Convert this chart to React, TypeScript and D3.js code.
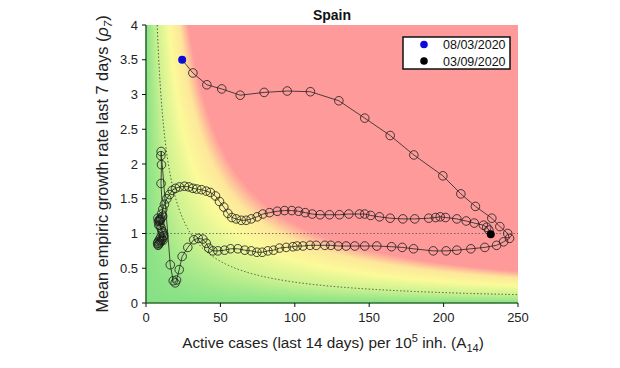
import React, { useEffect, useRef } from 'react';
import * as d3 from 'd3';

// trajectory, 08/03/2020 -> 03/09/2020
const A14 = [
  24.3, 31.5, 40.9, 50.9, 63.3, 79.4, 94.9, 110.5, 129.6, 147, 164.1, 180, 199.5, 211.6, 221.4, 232.4, 237.8, 243.1, 244.3,
  240.3, 235.6, 227.7, 218.3, 208.9, 201.7, 193, 179.8, 172.2, 165, 155.1, 147, 140.3, 134.5, 129.2, 124.2, 120.2, 114.4,
  110.3, 105.5, 101.5, 98.7, 94.2, 89.7, 85.7, 81.9, 78.1, 74.5, 70.7, 66.4, 61.7, 56.8, 52.8, 48.3, 44.9, 42.2, 40.5, 38.2,
  35.1, 32.1, 28.1, 24.3, 22.3, 20.5, 19.6, 18.3, 16.3, 10.2, 10.0, 10.4, 10.1,
  11.2, 10.0, 9.0, 8.0, 8.3, 8.6, 9.4, 10.2, 11.5, 11.8, 10.0, 8.9, 8.2, 7.8, 8.1, 8.4, 9.0, 9.6, 10.2, 10.8, 11.4, 11.8,
  11.2, 10.6, 9.4, 8.8, 9.8, 10.4, 11.3, 12.4, 14.0, 15.8, 17.6, 19.8, 22.5, 25.9, 28.8, 31.5, 34.1, 37.3,
  40.5, 43.3, 46.7, 49.4, 52.3, 55.0, 57.7, 60.6, 64.0, 67.3, 70.7, 74.7, 78.5, 83.0, 88.2, 93.1, 98.0, 102.5, 107.0, 111.7,
  117.0, 123.3, 130.0, 136.3, 143.5, 147.0, 151.0, 156.9, 164.1, 172.6, 180.6, 190.0, 194.6, 197.7, 201.3, 208.9, 215.2,
  220.6, 226.8, 229.0, 230.4, 231.7
];
const RHO7 = [
  3.5, 3.31, 3.14, 3.08, 2.99, 3.03, 3.05, 3.04, 2.91, 2.66, 2.41, 2.13, 1.83, 1.57, 1.39, 1.22, 1.1, 1.0, 0.93,
  0.88, 0.83, 0.8, 0.78, 0.76, 0.75, 0.75, 0.78, 0.8, 0.81, 0.82, 0.82, 0.82, 0.82, 0.82, 0.83, 0.83, 0.83,
  0.83, 0.82, 0.82, 0.81, 0.8, 0.79, 0.76, 0.75, 0.73, 0.73, 0.75, 0.76, 0.78, 0.78, 0.76, 0.75, 0.75, 0.79, 0.86, 0.92,
  0.93, 0.91, 0.8, 0.67, 0.48, 0.33, 0.29, 0.32, 0.55, 2.18, 2.12, 1.99, 1.72,
  1.25, 1.22, 1.2, 1.22, 1.17, 1.12, 1.18, 1.08, 1.0, 0.95, 0.95, 0.91, 0.88, 0.86, 0.83, 0.84, 0.86, 0.88, 0.9, 0.92, 0.9, 0.97,
  1.02, 1.04, 1.12, 1.18, 1.2, 1.28, 1.35, 1.42, 1.5, 1.56, 1.62, 1.65, 1.67, 1.68, 1.67, 1.65, 1.64, 1.63,
  1.61, 1.59, 1.54, 1.46, 1.38, 1.29, 1.23, 1.21, 1.19, 1.19, 1.21, 1.24, 1.28, 1.3, 1.32, 1.33, 1.33, 1.32, 1.3, 1.28,
  1.27, 1.27, 1.27, 1.28, 1.28, 1.28, 1.26, 1.24, 1.22, 1.21, 1.21, 1.22, 1.23, 1.24, 1.23, 1.21, 1.18,
  1.15, 1.12, 1.09, 1.05, 0.99
];

const xTicks = [0, 50, 100, 150, 200, 250];
const yTicks = [0, 0.5, 1, 1.5, 2, 2.5, 3, 3.5, 4];
const legendLabels = ['08/03/2020', '03/09/2020'];
const legendColors = ['#0b0bd6', '#000000'];
// background colour by A14 * rho7
const epgStops = [0, 30, 62, 90, 114];
const epgColors = ['#86e186', '#cdf290', '#fbfa99', '#fde69a', '#ff9a9a'];
const epgLine = 30;

const W = 620, H = 368;
const margin = { top: 25, right: 102, bottom: 65, left: 146 };
const font = '"Liberation Sans", Arial, sans-serif';

const draw = (node: SVGSVGElement) => {
  const svg = d3.select(node);
  svg.selectAll('*').remove();

  const width = W - margin.left - margin.right,
        height = H - margin.top - margin.bottom;

  const x = d3.scaleLinear().domain([0, 250]).range([0, width]);
  const y = d3.scaleLinear().domain([0, 4]).range([height, 0]);
  const color = d3.scaleLinear<string>().domain(epgStops).range(epgColors).clamp(true);

  svg.append('rect').attr('width', W).attr('height', H).attr('fill', '#fff');

  const g = svg.append('g').attr('transform', `translate(${margin.left},${margin.top})`);

  // risk background
  const canvas = document.createElement('canvas');
  canvas.width = width;
  canvas.height = height;
  const ctx = canvas.getContext('2d')!;
  const img = ctx.createImageData(width, height);
  for (let j = 0; j < height; j++) {
    const r = y.invert(j + 0.5);
    for (let i = 0; i < width; i++) {
      const a = x.invert(i + 0.5);
      const c = d3.rgb(color(a * r));
      const k = (j * width + i) * 4;
      img.data[k] = c.r; img.data[k + 1] = c.g; img.data[k + 2] = c.b; img.data[k + 3] = 255;
    }
  }
  ctx.putImageData(img, 0, 0);
  g.append('image')
    .attr('href', canvas.toDataURL())
    .attr('width', width)
    .attr('height', height)
    .attr('preserveAspectRatio', 'none');

  // reference lines
  const curve = d3.range(epgLine / 4, 250.01, 0.5).map(a => [a, epgLine / a] as [number, number]);
  g.append('path')
    .attr('d', d3.line().x(d => x(d[0])).y(d => y(d[1]))(curve))
    .attr('fill', 'none').attr('stroke', '#333').attr('stroke-width', 0.8).attr('stroke-dasharray', '1.5,2');
  g.append('line')
    .attr('x1', x(0)).attr('x2', x(250)).attr('y1', y(1)).attr('y2', y(1))
    .attr('stroke', '#555').attr('stroke-width', 0.8).attr('stroke-dasharray', '1.5,2');

  // trajectory
  const pts = A14.map((a, i) => [a, RHO7[i]] as [number, number]);
  g.append('path')
    .attr('d', d3.line().x(d => x(d[0])).y(d => y(d[1]))(pts))
    .attr('fill', 'none').attr('stroke', '#222').attr('stroke-width', 0.8);
  g.selectAll('circle.pt')
    .data(pts.slice(1, -1))
    .enter()
    .append('circle')
    .attr('class', 'pt')
    .attr('cx', d => x(d[0]))
    .attr('cy', d => y(d[1]))
    .attr('r', 4.3)
    .attr('fill', 'none')
    .attr('stroke', '#1a1a1a')
    .attr('stroke-width', 0.8);
  [pts[0], pts[pts.length - 1]].forEach((d, i) => {
    g.append('circle').attr('cx', x(d[0])).attr('cy', y(d[1])).attr('r', 4).attr('fill', legendColors[i]);
  });

  // axes
  const axisColor = '#2f6a2f';
  g.append('line').attr('x1', 0).attr('x2', 0).attr('y1', 0).attr('y2', height)
    .attr('stroke', axisColor).attr('stroke-width', 1.6);
  g.append('line').attr('x1', 0).attr('x2', width).attr('y1', height).attr('y2', height)
    .attr('stroke', axisColor).attr('stroke-width', 1.6);

  xTicks.forEach(t => {
    g.append('line').attr('x1', x(t)).attr('x2', x(t)).attr('y1', height).attr('y2', height + 4)
      .attr('stroke', '#111').attr('stroke-width', 1);
    g.append('text').attr('x', x(t)).attr('y', height + 19)
      .attr('text-anchor', 'middle').attr('font-family', font).attr('font-size', 13).attr('fill', '#222')
      .text(t);
  });
  yTicks.forEach(t => {
    g.append('line').attr('x1', -4).attr('x2', 0).attr('y1', y(t)).attr('y2', y(t))
      .attr('stroke', '#111').attr('stroke-width', 1);
    g.append('text').attr('x', -8).attr('y', y(t) + 4.5)
      .attr('text-anchor', 'end').attr('font-family', font).attr('font-size', 13).attr('fill', '#222')
      .text(t);
  });

  // title
  svg.append('text').attr('x', 332).attr('y', 20)
    .attr('text-anchor', 'middle').attr('font-family', font).attr('font-size', 14).attr('font-weight', 'bold')
    .attr('fill', '#111').text('Spain');

  // x label
  const xl = svg.append('text').attr('x', 333).attr('y', 348)
    .attr('text-anchor', 'middle').attr('font-family', font).attr('font-size', 15.3).attr('fill', '#222');
  xl.append('tspan').text('Active cases (last 14 days) per 10');
  xl.append('tspan').attr('font-size', 11).attr('dy', -6).text('5');
  xl.append('tspan').attr('dy', 6).text(' inh. (A');
  xl.append('tspan').attr('font-size', 11).attr('dy', 4).text('14');
  xl.append('tspan').attr('dy', -4).text(')');

  // y label
  const yl = svg.append('text').attr('transform', `translate(108,${margin.top + height / 2}) rotate(-90)`)
    .attr('text-anchor', 'middle').attr('font-family', font).attr('font-size', 16.3).attr('fill', '#222');
  yl.append('tspan').text('Mean empiric growth rate last 7 days (');
  yl.append('tspan').attr('font-style', 'italic').text('ρ');
  yl.append('tspan').attr('font-style', 'italic').attr('font-size', 11.5).attr('dy', 4).text('7');
  yl.append('tspan').attr('dy', -4).text(')');

  // legend
  const lg = svg.append('g').attr('transform', 'translate(403,37)');
  lg.append('rect').attr('width', 107).attr('height', 32)
    .attr('fill', '#fff').attr('stroke', '#111').attr('stroke-width', 1.5);
  legendLabels.forEach((label, i) => {
    lg.append('circle').attr('cx', 21).attr('cy', 7.5 + i * 16.5).attr('r', 3.8).attr('fill', legendColors[i]);
    lg.append('text').attr('x', 40).attr('y', 12 + i * 16.5)
      .attr('font-family', font).attr('font-size', 12.5).attr('fill', '#111').text(label);
  });
};

const App = () => {
  const ref = useRef<SVGSVGElement>(null);
  useEffect(() => {
    if (ref.current) draw(ref.current);
  }, []);
  return (
    <svg ref={ref} width={W} height={H}
      style={{ position: 'absolute', left: 0, top: 0, display: 'block' }} />
  );
};

export default App;
